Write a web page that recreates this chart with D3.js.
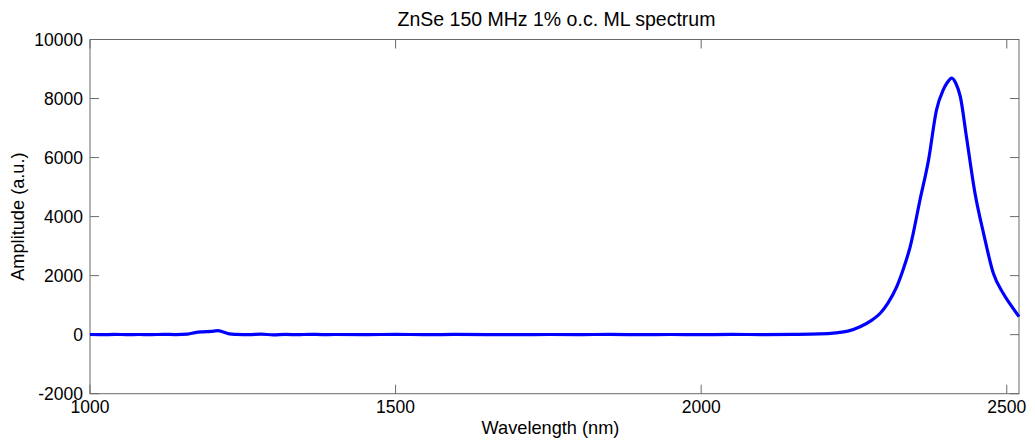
<!DOCTYPE html>
<html>
<head>
<meta charset="utf-8">
<script src="https://cdn.jsdelivr.net/npm/d3@7"></script>
<style>
  html, body { margin: 0; padding: 0; background: #fff; }
  svg { display: block; font-family: "Liberation Sans", Arial, sans-serif; }
</style>
</head>
<body>
<svg id="chart" width="1035" height="440"></svg>
<script>
// Mode-locked ZnSe laser output spectrum
const wavelength = [
  1000, 1020, 1040, 1060, 1080, 1100, 1120, 1140, 1160, 1172, 1185, 1198, 1209, 1218, 1228,
  1240, 1260, 1280, 1300, 1320, 1340, 1360, 1380, 1400, 1450, 1500, 1550, 1600, 1650,
  1700, 1750, 1800, 1850, 1900, 1950, 2000, 2050, 2100, 2150, 2194, 2220, 2240, 2260,
  2280, 2293, 2305, 2320, 2332, 2342, 2358, 2372, 2385, 2396, 2403, 2410, 2417, 2424,
  2434, 2448, 2462, 2478, 2494, 2505, 2520
];
const amplitude = [
  5, 0, 8, 2, 6, 0, 10, 4, 20, 70, 95, 110, 135, 90, 25,
  10, 0, 18, -5, 8, 0, 12, 2, 6, 0, 10, 0, 8, 3,
  0, 6, 0, 10, 2, 5, 0, 8, 4, 10, 24, 60, 120, 270,
  500, 725, 1050, 1626, 2300, 2981, 4563, 5918, 7612, 8290, 8550, 8690, 8500, 8062,
  6707, 4790, 3435, 2080, 1402, 1050, 610
];
const xTicks = [1000, 1500, 2000, 2500];
const yTicks = [-2000, 0, 2000, 4000, 6000, 8000, 10000];
const titleText = "ZnSe 150 MHz 1% o.c. ML spectrum";
const xLabel = "Wavelength (nm)";
const yLabel = "Amplitude (a.u.)";

const svg = d3.select("#chart");
const plotLeft = 90, plotRight = 1019, plotTop = 39.5, plotBottom = 393.7;

const x = d3.scaleLinear().domain([1000, 2520]).range([plotLeft, plotRight]);
const y = d3.scaleLinear().domain([-2000, 10000]).range([plotBottom, plotTop]);

const frame = "#6a6a6a";
const tickLen = 9;

// Box
svg.append("rect")
  .attr("x", plotLeft).attr("y", plotTop)
  .attr("width", plotRight - plotLeft).attr("height", plotBottom - plotTop)
  .attr("fill", "none").attr("stroke", frame).attr("stroke-width", 1);

// Inward ticks on all four sides
const g = svg.append("g").attr("stroke", frame).attr("stroke-width", 1);
xTicks.forEach(t => {
  g.append("line").attr("x1", x(t)).attr("x2", x(t)).attr("y1", plotBottom).attr("y2", plotBottom - tickLen);
  g.append("line").attr("x1", x(t)).attr("x2", x(t)).attr("y1", plotTop).attr("y2", plotTop + tickLen);
});
yTicks.forEach(t => {
  g.append("line").attr("x1", plotLeft).attr("x2", plotLeft + tickLen).attr("y1", y(t)).attr("y2", y(t));
  g.append("line").attr("x1", plotRight).attr("x2", plotRight - tickLen).attr("y1", y(t)).attr("y2", y(t));
});

// Tick labels
svg.append("g").selectAll("text").data(xTicks).join("text")
  .attr("x", d => x(d)).attr("y", 413)
  .attr("text-anchor", "middle").attr("font-size", 17.5).attr("fill", "#000")
  .text(d => d);
svg.append("g").selectAll("text").data(yTicks).join("text")
  .attr("x", plotLeft - 7).attr("y", d => y(d)).attr("dy", "0.35em")
  .attr("text-anchor", "end").attr("font-size", 17.5).attr("fill", "#000")
  .text(d => d);

// Title and axis labels
svg.append("text").attr("x", (plotLeft + plotRight) / 2 + 2).attr("y", 26)
  .attr("text-anchor", "middle").attr("font-size", 19.5).attr("fill", "#000").text(titleText);
svg.append("text").attr("x", (plotLeft + plotRight) / 2 - 4).attr("y", 434)
  .attr("text-anchor", "middle").attr("font-size", 18.2).attr("fill", "#000").text(xLabel);
svg.append("text")
  .attr("transform", `translate(24,${(plotTop + plotBottom) / 2}) rotate(-90)`)
  .attr("text-anchor", "middle").attr("font-size", 18.2).attr("fill", "#000").text(yLabel);

// Spectrum trace
const data = wavelength.map((w, i) => [w, amplitude[i]]);
const line = d3.line().x(d => x(d[0])).y(d => y(d[1])).curve(d3.curveMonotoneX);
svg.append("path").datum(data)
  .attr("d", line)
  .attr("fill", "none").attr("stroke", "#0000ff").attr("stroke-width", 3.2)
  .attr("stroke-linejoin", "round");
</script>
</body>
</html>
